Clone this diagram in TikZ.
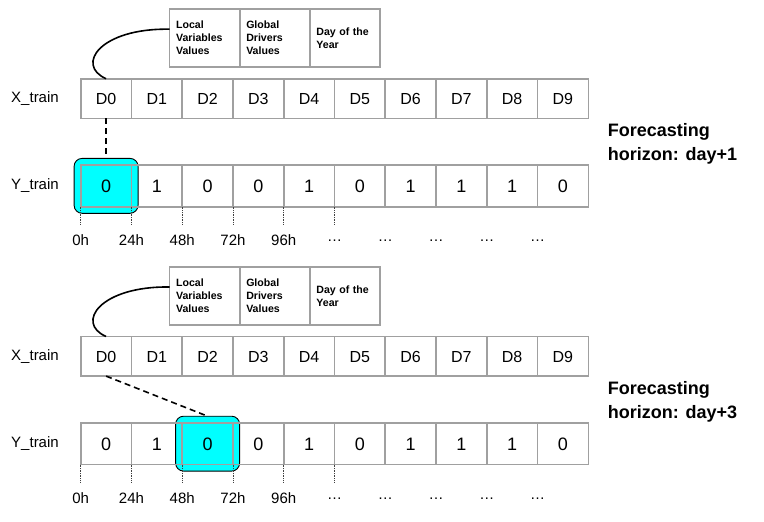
\documentclass[tikz,border=0pt]{standalone}
\usepackage{fontspec}
\setmainfont{Liberation Sans}
\usetikzlibrary{fit,backgrounds}
\definecolor{cellgray}{RGB}{160,160,160}
\definecolor{hlcyan}{RGB}{0,255,255}
\begin{document}
\begin{tikzpicture}[x=1pt,y=-1pt,
  cell/.style={draw=cellgray, line width=1.6pt, minimum width=50.76pt, inner sep=0pt, outer sep=0pt, text height=11.5pt, text depth=0pt, font=\fontsize{16}{19}\selectfont},
  ycell/.style={cell, text height=12.9pt, font=\fontsize{18}{21}\selectfont},
  feat/.style={draw=cellgray, line width=1.6pt, minimum width=70.2pt, minimum height=58pt, text width=57.2pt, inner xsep=6.5pt, inner ysep=0pt, outer sep=0pt, align=left, font=\bfseries\fontsize{10.6}{13}\selectfont},
  rowlbl/.style={font=\fontsize{15}{18}\selectfont, inner sep=0pt},
  ticklbl/.style={font=\fontsize{15}{18}\selectfont, inner sep=0pt},
  tickline/.style={densely dotted, line width=0.7pt, black!75},
  hl/.style={fill=hlcyan, draw=black, line width=0.9pt, rounded corners=8pt, inner sep=6.6pt, outer sep=0pt},
  link/.style={black, line width=1.6pt, dash pattern=on 6pt off 4pt},
  curv/.style={black, line width=1.6pt},
  fc/.style={font=\bfseries\fontsize{18}{24}\selectfont, inner sep=0pt, anchor=base west}]
\useasboundingbox (0,0) rectangle (764,522);

% ---------- section 1 (day+1) ----------
\node[feat] (af1) at (204.65,38.2) {Local\\Variables\\Values};
\node[feat] (af2) at (274.85,38.2) {Global\\Drivers\\Values};
\node[feat] (af3) at (345.05,38.2) {Day of the\\Year};
\node[rowlbl] (axl) at (35,98.5) {X\_train};
\node[rowlbl] (ayl) at (35,185.5) {Y\_train};
\foreach \i in {0,...,9}
  \node[cell, minimum height=39.6pt] (ax\i) at ({80.7+(\i+0.5)*50.76},98.5) {D\i};
\foreach \v [count=\i from 0] in {0,1,0,0,1,0,1,1,1,0}
  \node[ycell, minimum height=41.7pt] (ay\i) at ({80.7+(\i+0.5)*50.76},185.85) {\v};
\foreach \t [count=\i from 0] in {0h,24h,48h,72h,96h,…,…,…,…,…}
  \node[ticklbl] (at\i) at ({80.7+\i*50.76},240.5) {\t};
\foreach \i in {0,...,5}
  \draw[tickline] (ay\i.south west) -- ++(0,17.5);
\node[fc] (afa) at (607.7,136) {Forecasting};
\node[fc] (afb) at (607.7,160) {horizon: day+1};

% ---------- section 2 (day+3) ----------
\node[feat] (bf1) at (204.65,296) {Local\\Variables\\Values};
\node[feat] (bf2) at (274.85,296) {Global\\Drivers\\Values};
\node[feat] (bf3) at (345.05,296) {Day of the\\Year};
\node[rowlbl] (bxl) at (35,356.3) {X\_train};
\node[rowlbl] (byl) at (35,443.3) {Y\_train};
\foreach \i in {0,...,9}
  \node[cell, minimum height=39.6pt] (bx\i) at ({80.7+(\i+0.5)*50.76},356.3) {D\i};
\foreach \v [count=\i from 0] in {0,1,0,0,1,0,1,1,1,0}
  \node[ycell, minimum height=41.7pt] (by\i) at ({80.7+(\i+0.5)*50.76},443.65) {\v};
\foreach \t [count=\i from 0] in {0h,24h,48h,72h,96h,…,…,…,…,…}
  \node[ticklbl] (bt\i) at ({80.7+\i*50.76},498.3) {\t};
\foreach \i in {0,...,5}
  \draw[tickline] (by\i.south west) -- ++(0,17.5);
\node[fc] (bfa) at (607.7,394) {Forecasting};
\node[fc] (bfb) at (607.7,418) {horizon: day+3};

% ---------- highlights (behind the cells) ----------
\begin{scope}[on background layer]
  \fill[white] (0,0) rectangle (764,522);
  \node[hl, fit=(ay0)] (ahl) {};
  \node[hl, fit=(by2)] (bhl) {};
\end{scope}

% ---------- connectors ----------
\draw[curv] ([yshift=9pt]af1.west) .. controls (100,28) and (75,65) .. (ax0.north);
\draw[curv] ([yshift=9pt]bf1.west) .. controls (100,286) and (75,323) .. (bx0.north);
\draw[link] (ax0.south) -- (ahl.north);
\draw[link] (bx0.south) -- (bhl.north);
\end{tikzpicture}
\end{document}
